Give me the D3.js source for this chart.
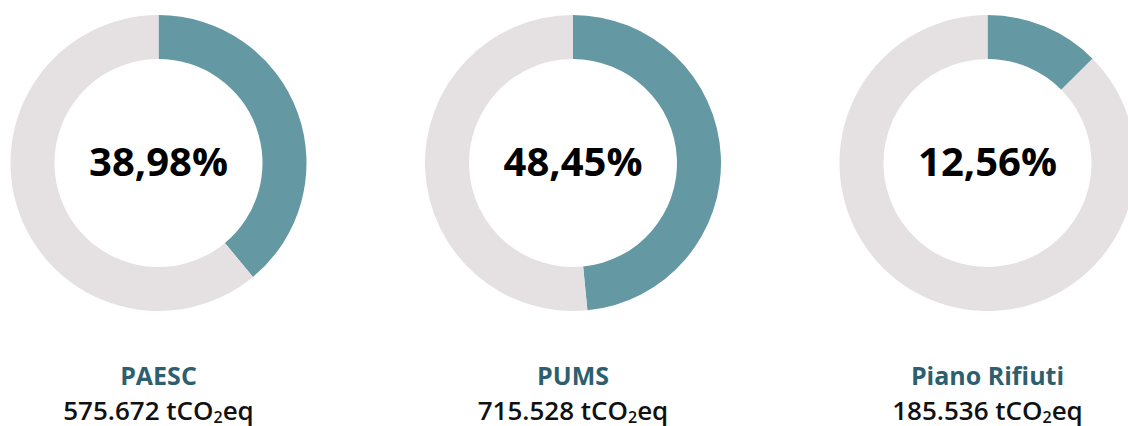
<!DOCTYPE html>
<html>
<head>
<meta charset="utf-8">
<script src="https://cdnjs.cloudflare.com/ajax/libs/d3/7.8.5/d3.min.js"></script>
<style>
  body { margin: 0; background: #fff; }
  svg { display: block; font-family: "Open Sans", "Noto Sans", sans-serif; }
</style>
</head>
<body>
<svg class="donuts" width="1128" height="426"></svg>
<script>
var names = ["PAESC", "PUMS", "Piano Rifiuti"];
var shares = [38.98, 48.45, 12.56];
var emissions = ["575.672", "715.528", "185.536"];

var svg = d3.select(".donuts"),
    width = +svg.attr("width"),
    height = +svg.attr("height");

var outerR = 148, innerR = 104;

var x = d3.scalePoint().domain(names).range([158.5, 987.5]);
var cy = 163;

var pie = d3.pie().sort(null).value(function(d) { return d; });
var arc = d3.arc().innerRadius(innerR).outerRadius(outerR);
var color = ["#6499a3", "#e5e1e2"];
var fmt = function(v) { return v.toFixed(2).replace(".", ",") + "%"; };

names.forEach(function(name, i) {
  var g = svg.append("g")
      .attr("transform", "translate(" + x(name) + "," + cy + ")");

  g.selectAll("path")
      .data(pie([shares[i], 100 - shares[i]]))
    .enter().append("path")
      .attr("d", arc)
      .attr("fill", function(d, j) { return color[j]; });

  g.append("text")
      .attr("y", 13)
      .style("text-anchor", "middle")
      .style("font-size", "40px")
      .style("font-weight", "700")
      .attr("fill", "#000")
      .text(fmt(shares[i]));

  // label under the ring
  svg.append("text")
      .attr("x", x(name))
      .attr("y", 385)
      .style("text-anchor", "middle")
      .style("font-size", "25px")
      .style("font-weight", "700")
      .attr("fill", "#2e5f6e")
      .text(name);

  var t = svg.append("text")
      .attr("x", x(name))
      .attr("y", 420)
      .style("text-anchor", "middle")
      .style("font-size", "26px")
      .style("font-weight", "600")
      .attr("fill", "#111");
  t.append("tspan").text(emissions[i] + " tCO");
  t.append("tspan").attr("dy", 3).style("font-size", "16px").text("2");
  t.append("tspan").attr("dy", -3).text("eq");
});
</script>
</body>
</html>
